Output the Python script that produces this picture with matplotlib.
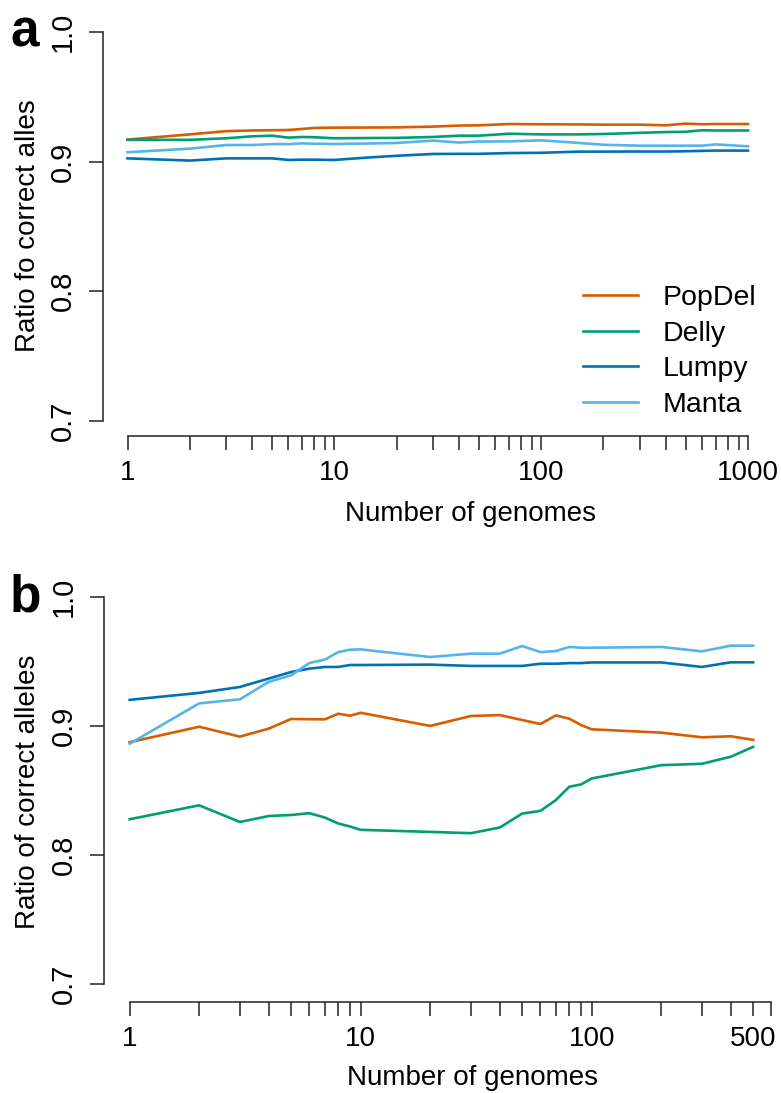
import numpy as np
import matplotlib
matplotlib.use("Agg")
import matplotlib.pyplot as plt
from matplotlib.ticker import FixedLocator, NullLocator, FixedFormatter

plt.rcParams['font.family'] = ['Liberation Sans', 'DejaVu Sans']

# ---------------- data ----------------
series_names = ["PopDel", "Delly", "Lumpy", "Manta"]
series_colors = ["#D55E00", "#009E73", "#0072B2", "#56B4E9"]

# Panel a
genomes_a = [1, 2, 3, 4, 5, 6, 7, 8, 10, 15, 20, 30, 40, 50, 70, 100, 150, 200,
             300, 400, 500, 600, 700, 1000]
popdel_a = [0.917, 0.921, 0.9235, 0.924, 0.9242, 0.9244, 0.9252, 0.926, 0.9262,
            0.9263, 0.9264, 0.927, 0.9278, 0.928, 0.929, 0.9288, 0.9287, 0.9285,
            0.9285, 0.928, 0.9293, 0.9288, 0.929, 0.929]
delly_a = [0.9168, 0.9168, 0.918, 0.9195, 0.920, 0.9185, 0.919, 0.9188, 0.918,
           0.9182, 0.9183, 0.919, 0.920, 0.920, 0.9215, 0.921, 0.921, 0.9213,
           0.9222, 0.9228, 0.923, 0.9242, 0.924, 0.924]
lumpy_a = [0.9025, 0.9008, 0.9025, 0.9025, 0.9025, 0.9013, 0.9015, 0.9015, 0.9013,
           0.9033, 0.9045, 0.9059, 0.906, 0.906, 0.9066, 0.9068, 0.9077, 0.9077,
           0.9078, 0.9078, 0.908, 0.9083, 0.9085, 0.9085]
manta_a = [0.9072, 0.910, 0.9128, 0.9128, 0.9135, 0.9135, 0.9141, 0.9138, 0.9136,
           0.914, 0.9144, 0.9162, 0.9147, 0.9155, 0.9156, 0.9164, 0.9145, 0.913,
           0.9123, 0.9123, 0.9123, 0.9123, 0.9133, 0.9118]

# Panel b
genomes_b = [1, 2, 3, 4, 5, 6, 7, 8, 9, 10, 20, 30, 40, 50, 60, 70, 80, 90, 100,
             200, 300, 400, 500]
popdel_b = [0.8872, 0.8992, 0.8915, 0.8977, 0.9052, 0.905, 0.9049, 0.9093, 0.9077,
            0.910, 0.8998, 0.9075, 0.9082, 0.9044, 0.9013, 0.908, 0.9054, 0.9005,
            0.8972, 0.8946, 0.891, 0.8918, 0.889]
delly_b = [0.8275, 0.8383, 0.8254, 0.830, 0.8308, 0.8322, 0.8288, 0.8242, 0.8219,
           0.8193, 0.8177, 0.8167, 0.8211, 0.8319, 0.834, 0.8424, 0.8527, 0.8545,
           0.8591, 0.8694, 0.8705, 0.8759, 0.8836]
lumpy_b = [0.920, 0.9254, 0.930, 0.9365, 0.9416, 0.9442, 0.9455, 0.9455, 0.947,
           0.947, 0.9473, 0.9463, 0.9463, 0.9463, 0.948, 0.948, 0.9485, 0.9485,
           0.949, 0.949, 0.9455, 0.9491, 0.9491]
manta_b = [0.886, 0.9173, 0.9204, 0.934, 0.939, 0.9486, 0.9512, 0.957, 0.9589,
           0.9591, 0.9532, 0.9558, 0.9558, 0.9617, 0.957, 0.9578, 0.961, 0.9604,
           0.9604, 0.961, 0.9576, 0.962, 0.962]

y_ticks = [0.7, 0.8, 0.9, 1.0]
y_ticklabels = ["0.7", "0.8", "0.9", "1.0"]
x_ticks_a = [1, 2, 3, 4, 5, 6, 7, 8, 9, 10, 20, 30, 40, 50, 60, 70, 80, 90, 100,
             200, 300, 400, 500, 600, 700, 800, 900, 1000]
x_labels_a = {1: "1", 10: "10", 100: "100", 1000: "1000"}
x_ticks_b = [1, 2, 3, 4, 5, 6, 7, 8, 9, 10, 20, 30, 40, 50, 60, 70, 80, 90, 100,
             200, 300, 400, 500, 600]
x_labels_b = {1: "1", 10: "10", 100: "100", 500: "500"}

# ---------------- figure ----------------
W, H = 781, 1093
fig = plt.figure(figsize=(W / 100, H / 100), dpi=100)

def frac(l, t, r, b):
    return [l / W, 1 - b / H, (r - l) / W, (b - t) / H]

ax_a = fig.add_axes(frac(103, 16, 773, 436))
ax_b = fig.add_axes(frac(104, 581, 778, 1002))

LW = 1.9
XTICK_FS = 20
YTICK_FS = 21
LAB_FS = 20

def style(ax, xt, xlabels, xlo, xhi, xb, ylo, yhi, ylabel, xlab_pos, ylab_pos):
    ax.set_xscale('log')
    ax.set_xlim(xlo, xhi)
    ax.set_ylim(ylo, yhi)
    for s in ['top', 'right']:
        ax.spines[s].set_visible(False)
    for s in ['left', 'bottom']:
        ax.spines[s].set_linewidth(1.1)
        ax.spines[s].set_color('#222222')
    ax.spines['left'].set_bounds(0.7, 1.0)
    ax.spines['bottom'].set_bounds(xb[0], xb[1])
    ax.xaxis.set_major_locator(FixedLocator(xt))
    ax.xaxis.set_minor_locator(NullLocator())
    ax.xaxis.set_major_formatter(FixedFormatter([xlabels.get(v, "") for v in xt]))
    ax.yaxis.set_major_locator(FixedLocator(y_ticks))
    ax.set_yticklabels(y_ticklabels, rotation=90, va='center')
    ax.tick_params(axis='both', direction='out', length=10, width=1.1,
                   color='#222222')
    ax.tick_params(axis='x', pad=7, labelsize=XTICK_FS)
    ax.tick_params(axis='y', pad=9, labelsize=YTICK_FS)
    ax.set_xlabel("Number of genomes", fontsize=LAB_FS)
    ax.xaxis.set_label_coords(*xlab_pos)
    ax.set_ylabel(ylabel, fontsize=LAB_FS)
    ax.yaxis.set_label_coords(*ylab_pos)
    ax.patch.set_visible(False)

for ax, xs, ys_list in [
    (ax_a, genomes_a, [popdel_a, delly_a, lumpy_a, manta_a]),
    (ax_b, genomes_b, [popdel_b, delly_b, lumpy_b, manta_b]),
]:
    for name, col, ys in zip(series_names, series_colors, ys_list):
        ax.plot(xs, ys, color=col, lw=LW, label=name, solid_joinstyle='round')

style(ax_a, x_ticks_a, x_labels_a, 10 ** -0.1185, 10 ** 3.121, (1, 1000),
      0.6884, 1.0123, "Ratio fo correct alles", (0.549, -0.155), (-0.092, 0.5))
style(ax_b, x_ticks_b, x_labels_b, 10 ** -0.111, 10 ** 2.8065, (1, 600),
      0.6859, 1.0121, "Ratio of correct alleles", (0.546, -0.150), (-0.093, 0.5))

leg = ax_a.legend(loc='upper left', bbox_to_anchor=(583 / W, 1 - 285 / H),
                  bbox_transform=fig.transFigure, frameon=False, fontsize=20.5,
                  handlelength=1.93, handletextpad=0.88, labelspacing=0.34,
                  borderaxespad=0, borderpad=0)

fig.text(10 / W, 1 - 33 / H, "a", fontsize=37, fontweight='bold', va='center', ha='left')
fig.text(10 / W, 1 - 598 / H, "b", fontsize=37, fontweight='bold', va='center', ha='left')

fig.savefig("out.png", dpi=100)
